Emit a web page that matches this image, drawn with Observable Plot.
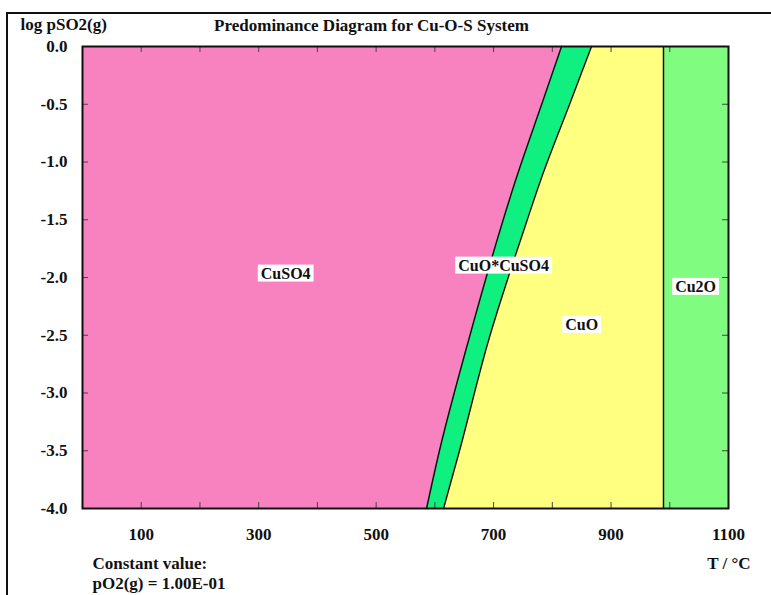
<!DOCTYPE html>
<html>
<head>
<meta charset="utf-8">
<script src="https://cdn.jsdelivr.net/npm/d3@7"></script>
<script src="https://cdn.jsdelivr.net/npm/@observablehq/plot@0.6"></script>
<style>
  html, body { margin: 0; padding: 0; background: #fff; }
  #wrap { position: relative; width: 771px; height: 595px; overflow: hidden; }
  #outer { position: absolute; left: 6px; top: 12px; width: 900px; height: 700px;
           border-top: 2px solid #111; border-left: 2px solid #111; pointer-events: none; }
</style>
</head>
<body>
<div id="wrap"><div id="outer"></div></div>
<script>
// ---- data ----
const logP        = [0, -0.468, -1.16, -1.506, -2.545, -3.498, -4];
const tCuSO4Edge  = [815.6, 784.1, 737.3, 716.0, 657.3, 607.9, 585.8];   // CuSO4 | CuO*CuSO4
const tCuOEdge    = [866.7, 831.8, 779.9, 756.9, 691.3, 642.0, 614.7];   // CuO*CuSO4 | CuO
const tCu2OEdge   = 989.3;                                              // CuO | Cu2O
const xTicks      = [0, 100, 200, 300, 400, 500, 600, 700, 800, 900, 1000, 1100];
const xTickLabels = [100, 300, 500, 700, 900, 1100];
const yTicks      = [0, -0.5, -1, -1.5, -2, -2.5, -3, -3.5, -4];
const labelNames  = ["CuSO4", "CuO*CuSO4", "CuO", "Cu2O"];
const labelT      = [346, 717, 850, 1044];
const labelLogP   = [-1.965, -1.896, -2.41, -2.08];
const colors = {CuSO4: "#f881bf", CuOCuSO4: "#10f080", CuO: "#ffff80", Cu2O: "#80fd80"};

const rows = logP.map((y, i) => ({y, a: tCuSO4Edge[i], b: tCuOEdge[i]}));
const labels = labelNames.map((t, i) => ({t, x: labelT[i], y: labelLogP[i]}));

const W = 771, H = 595, mL = 82, mT = 46, mR = 43, mB = 87;
const fw = W - mL - mR, fh = H - mT - mB;
const curve = "monotone-y";
const font = "'Liberation Serif', 'Times New Roman', serif";

const plot = Plot.plot({
  width: W, height: H,
  marginLeft: mL, marginTop: mT, marginRight: mR, marginBottom: mB,
  style: {fontFamily: font, fontSize: "17px", fontWeight: "bold", background: "transparent", color: "#111"},
  x: {domain: [0, 1100]},
  y: {domain: [-4, 0]},
  marks: [
    Plot.areaX(rows, {y: "y", x1: () => 0, x2: "a", fill: colors.CuSO4, curve}),
    Plot.areaX(rows, {y: "y", x1: "a", x2: "b", fill: colors.CuOCuSO4, curve}),
    Plot.areaX(rows, {y: "y", x1: "b", x2: () => tCu2OEdge, fill: colors.CuO, curve}),
    Plot.rect([tCu2OEdge], {x1: d => d, x2: () => 1100, y1: () => -4, y2: () => 0, fill: colors.Cu2O}),
    Plot.line(rows, {x: "a", y: "y", stroke: "#111", strokeWidth: 1.5, curve}),
    Plot.line(rows, {x: "b", y: "y", stroke: "#111", strokeWidth: 1.5, curve}),
    Plot.ruleX([tCu2OEdge], {stroke: "#111", strokeWidth: 1.5}),
    // inward ticks
    Plot.tickX(xTicks, {x: d => d, insetTop: fh - 6, stroke: "#444"}),
    Plot.tickX(xTicks, {x: d => d, insetBottom: fh - 6, stroke: "#444"}),
    Plot.tickY(yTicks, {y: d => d, insetRight: fw - 6, stroke: "#444"}),
    Plot.tickY(yTicks, {y: d => d, insetLeft: fw - 6, stroke: "#444"}),
    Plot.axisX({ticks: xTickLabels, tickSize: 0, tickPadding: 19, tickFormat: d => String(d), label: null, fontSize: 17, fontWeight: "bold"}),
    Plot.axisY({ticks: yTicks, tickSize: 0, tickPadding: 15, tickFormat: d => d.toFixed(1), label: null, fontSize: 17, fontWeight: "bold"}),
    Plot.frame({stroke: "#111", strokeWidth: 2}),
    // region labels
    Plot.text(labels, {x: "x", y: "y", text: "t", fontSize: 16, fontWeight: "bold", fill: "#111"}),
    // annotations
    Plot.text(["log pSO2(g)"], {frameAnchor: "top-left", lineAnchor: "middle", dx: -62, dy: -22, textAnchor: "start", fontSize: 17, fontWeight: "bold"}),
    Plot.text(["Predominance Diagram for Cu-O-S System"], {frameAnchor: "top", lineAnchor: "middle", dx: -34, dy: -21, fontSize: 17, fontWeight: "bold"}),
    Plot.text(["T / °C"], {frameAnchor: "bottom-right", lineAnchor: "middle", dx: 22, dy: 55, textAnchor: "end", fontSize: 17, fontWeight: "bold"}),
    Plot.text(["Constant value:"], {frameAnchor: "bottom-left", lineAnchor: "middle", dx: 10, dy: 55, textAnchor: "start", fontSize: 17, fontWeight: "bold"}),
    Plot.text(["pO2(g) = 1.00E-01"], {frameAnchor: "bottom-left", lineAnchor: "middle", dx: 10, dy: 75, textAnchor: "start", fontSize: 17, fontWeight: "bold"})
  ]
});
plot.style.position = "absolute";
plot.style.left = "0px";
plot.style.top = "0px";
const wrap = document.getElementById("wrap");
wrap.insertBefore(plot, wrap.firstChild);

// white boxes behind region labels
d3.select(plot).selectAll("text").each(function () {
  if (!labelNames.includes(this.textContent)) return;
  const b = this.getBBox();
  const r = document.createElementNS("http://www.w3.org/2000/svg", "rect");
  r.setAttribute("x", b.x - 3);
  r.setAttribute("y", b.y);
  r.setAttribute("width", b.width + 6);
  r.setAttribute("height", b.height);
  r.setAttribute("fill", "#fff");
  if (this.getAttribute("transform")) r.setAttribute("transform", this.getAttribute("transform"));
  this.parentNode.insertBefore(r, this);
});
</script>
</body>
</html>
